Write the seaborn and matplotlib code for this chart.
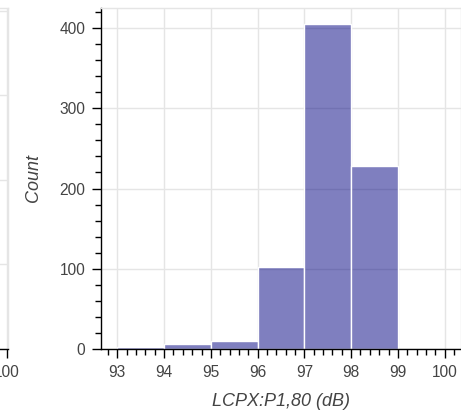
import matplotlib
matplotlib.use("Agg")
import matplotlib.pyplot as plt
import seaborn as sns
from matplotlib.ticker import AutoMinorLocator, MultipleLocator, NullFormatter

# data
bin_edges = [93, 94, 95, 96, 97, 98, 99]
counts = [2, 6, 10, 102, 405, 228]
x_ticks = [93, 94, 95, 96, 97, 98, 99, 100]
y_ticks = [0, 100, 200, 300, 400]
x_label = "LCPX:P1,80 (dB)"

GRID = "#e5e5e5"
TEXT = "#444444"
W, H = 461, 418

sns.set_theme(style="white")
plt.rcParams["font.family"] = ["Liberation Sans", "DejaVu Sans"]

fig = plt.figure(figsize=(W / 100, H / 100), dpi=100)


def px_axes(left, top, right, bottom):
    return fig.add_axes([left / W, 1 - bottom / H, (right - left) / W, (bottom - top) / H])


def style_axis(ax):
    ax.set_facecolor("white")
    ax.grid(True, color=GRID, linewidth=1.0)
    ax.set_axisbelow(True)
    for s in ["left", "bottom"]:
        ax.spines[s].set_color("black")
        ax.spines[s].set_linewidth(1.0)
    for s in ["top", "right"]:
        ax.spines[s].set_color(GRID)
        ax.spines[s].set_linewidth(1.0)
    ax.tick_params(which="major", direction="out", length=6.2, width=1.0,
                   color="black", labelcolor=TEXT, labelsize=11.2, pad=5,
                   bottom=True, left=True)
    ax.tick_params(which="minor", direction="out", length=4.0, width=1.0,
                   color="black", bottom=True, left=True)


# neighbouring panel, cut off at the left edge of the picture
unit = (398 - 117) / 6.0
ax0 = px_axes(-352, 8, 8, 349)
ax0.set_xlim(100 - 359 / unit, 100 + 1 / unit)
ax0.set_ylim(0, 4.03)
ax0.set_xticks([100])
ax0.yaxis.set_major_locator(MultipleLocator(1))
style_axis(ax0)
ax0.spines["left"].set_visible(False)
ax0.yaxis.set_major_formatter(NullFormatter())
ax0.tick_params(axis="y", which="both", left=False)

# main histogram
ax = px_axes(101, 8, 461, 349)
style_axis(ax)
sns.histplot(x=bin_edges[:-1], weights=counts, bins=bin_edges, ax=ax,
             color="navy", alpha=0.5, edgecolor="white", linewidth=1.0)
ax.set_xlim(92.65, 100.35)
ax.set_ylim(0, 425)
ax.set_xticks(x_ticks)
ax.set_yticks(y_ticks)
ax.xaxis.set_minor_locator(AutoMinorLocator(5))
ax.yaxis.set_minor_locator(AutoMinorLocator(5))
ax.set_xlabel(x_label, fontsize=13, fontstyle="italic", color=TEXT, labelpad=10)
ax.set_ylabel("Count", fontsize=13, fontstyle="italic", color=TEXT, labelpad=13)

fig.savefig("out.png", dpi=100)
